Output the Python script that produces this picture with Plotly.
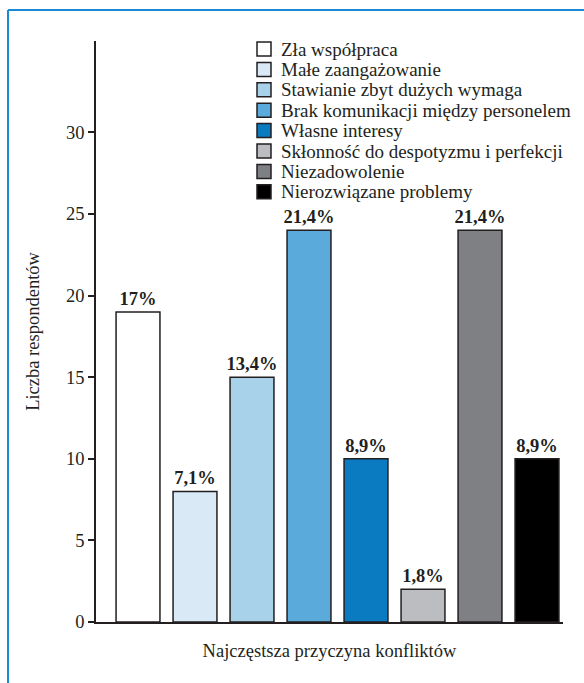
import plotly.graph_objects as go

# Conflict causes and number of respondents naming each
causes = [
    "Zła współpraca",
    "Małe zaangażowanie",
    "Stawianie zbyt dużych wymaga",
    "Brak komunikacji między personelem",
    "Własne interesy",
    "Skłonność do despotyzmu i perfekcji",
    "Niezadowolenie",
    "Nierozwiązane problemy",
]
respondents = [19, 8, 15, 24, 10, 2, 24, 10]
share_labels = ["17%", "7,1%", "13,4%", "21,4%", "8,9%", "1,8%", "21,4%", "8,9%"]
bar_colors = ["#ffffff", "#d9eaf6", "#a8d2ea", "#5aaadb", "#0a7bc1",
              "#bcbdc1", "#7f8084", "#000000"]
y_ticks = [0, 5, 10, 15, 20, 25, 30]

SERIF = "Liberation Serif"
INK = "#231f20"
FS = 18.5

fig = go.Figure()
for i, (name, val, lab, col) in enumerate(zip(causes, respondents, share_labels, bar_colors)):
    fig.add_trace(go.Bar(
        x=[i], y=[val], name=name,
        width=0.77,
        marker=dict(color=col, line=dict(color=INK, width=1.5)),
        text=[f"<b>{lab}</b>"], textposition="outside",
        constraintext="none",
        textfont=dict(family=SERIF, size=FS, color=INK),
        cliponaxis=False, showlegend=False,
    ))

W, H = 584, 683
L, R, T, B = 96, 21, 41, 61
pw, ph = W - L - R, H - T - B

def px_x(p):
    return (p - L) / pw

def px_y(p):
    return (H - B - p) / ph

fig.update_layout(
    width=W, height=H,
    margin=dict(l=L, r=R, t=T, b=B),
    paper_bgcolor="white", plot_bgcolor="white",
    font=dict(family=SERIF, size=FS, color=INK),
    showlegend=False,
    xaxis=dict(
        range=[-0.737, 7.456], showticklabels=False, ticks="",
        showgrid=False, zeroline=False,
        showline=True, linecolor=INK, linewidth=1.5,
        title=dict(text="Najczęstsza przyczyna konfliktów",
                   font=dict(family=SERIF, size=FS, color=INK), standoff=21),
    ),
    yaxis=dict(
        range=[0, 35.6], tickvals=y_ticks, ticks="outside", ticklen=6,
        tickwidth=1.5, tickcolor=INK,
        showgrid=False, zeroline=False,
        showline=True, linecolor=INK, linewidth=1.5,
        tickfont=dict(family=SERIF, size=FS, color=INK),
        title=dict(text="Liczba respondentów",
                   font=dict(family=SERIF, size=FS, color=INK), standoff=22),
    ),
)

# Legend key: colour swatch plus cause name, one row per cause
row0, row_step = 49, 20.4
for i, (name, col) in enumerate(zip(causes, bar_colors)):
    cy = row0 + i * row_step
    fig.add_shape(type="rect", xref="paper", yref="paper",
                  x0=px_x(257), x1=px_x(271), y0=px_y(cy + 7), y1=px_y(cy - 7),
                  fillcolor=col, line=dict(color=INK, width=1.5))
    fig.add_annotation(xref="paper", yref="paper", x=px_x(279), y=px_y(cy),
                       xanchor="left", yanchor="middle", showarrow=False,
                       text=name, font=dict(family=SERIF, size=19, color=INK))

# Blue frame on the top and left edges of the page
frame = "#1a8ad4"
fig.add_shape(type="line", xref="paper", yref="paper",
              x0=px_x(8), x1=px_x(W + 5), y0=px_y(10), y1=px_y(10),
              line=dict(color=frame, width=2))
fig.add_shape(type="line", xref="paper", yref="paper",
              x0=px_x(8), x1=px_x(8), y0=px_y(10), y1=px_y(H + 5),
              line=dict(color=frame, width=2))

fig.write_html("out.html")
